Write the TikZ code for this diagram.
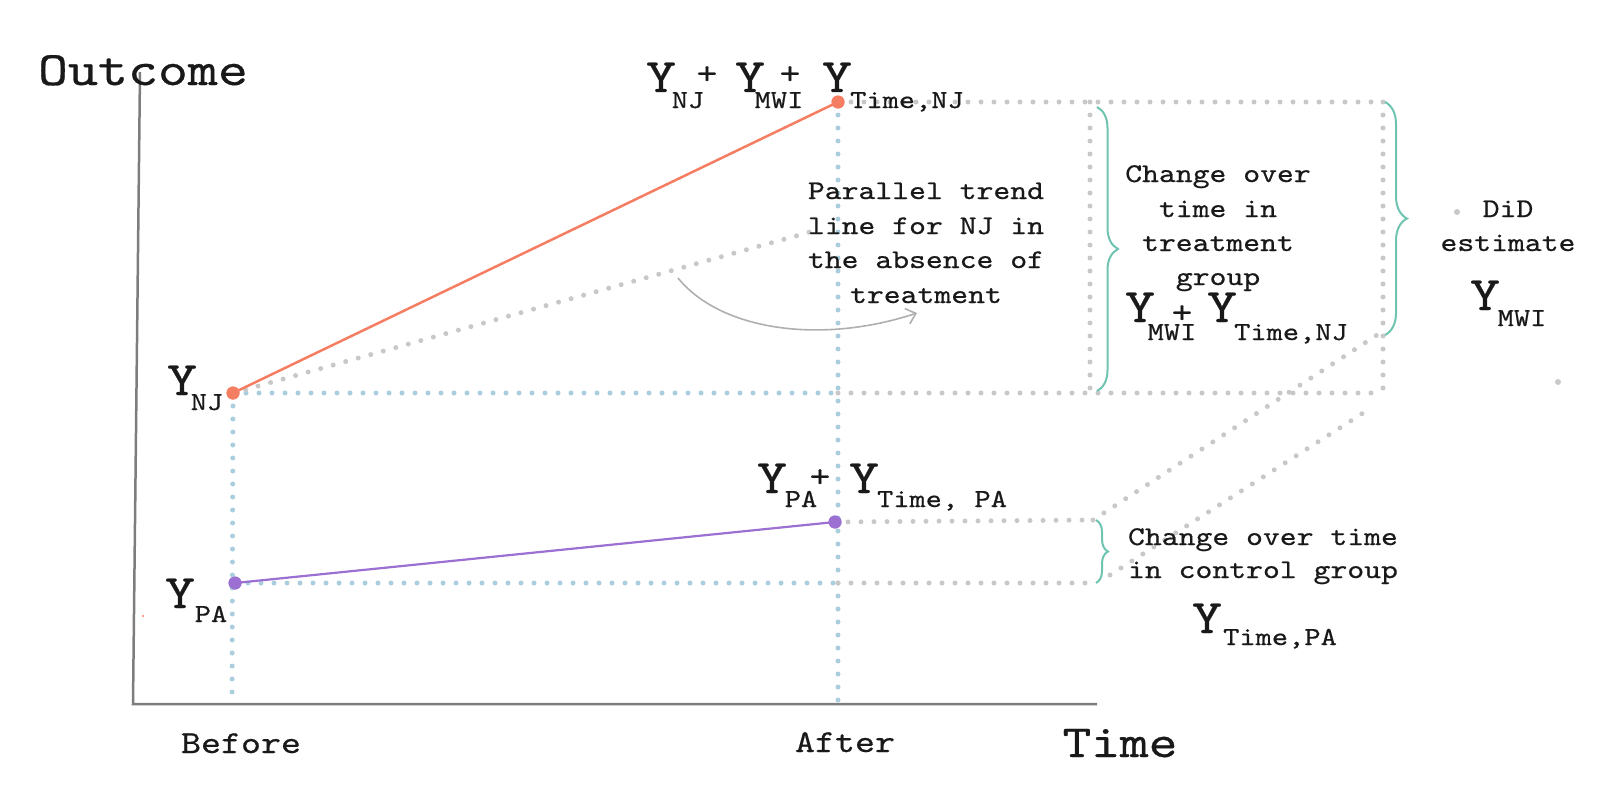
\documentclass[tikz,border=0pt]{standalone}
\usepackage{fontspec}
\newfontfamily\mono{lmmono10-regular}[Extension=.otf, FakeStretch=1.19, FakeBold=0.6]
\usetikzlibrary{arrows.meta,decorations.pathreplacing}
\definecolor{coral}{RGB}{244,125,98}
\definecolor{purp}{RGB}{155,112,210}
\definecolor{dblue}{RGB}{170,206,222}
\definecolor{dgray}{RGB}{200,200,200}
\definecolor{tealb}{RGB}{110,196,176}
\definecolor{axisgray}{RGB}{125,125,125}
\definecolor{arrgray}{RGB}{175,175,175}
\definecolor{ink}{RGB}{25,25,25}
\tikzset{
  bdot/.style={draw=dblue, line width=5pt, line cap=round, dash pattern=on 0pt off 13pt},
  gdot/.style={draw=dgray, line width=5pt, line cap=round, dash pattern=on 0pt off 13pt},
  axisline/.style={draw=axisgray, line width=2.5pt},
  ptnode/.style={circle, inner sep=0pt, minimum size=13pt},
  bracebox/.style={draw=tealb, line width=2pt, decorate, decoration={brace, amplitude=#1}},
  big/.style={font=\mono\fontsize{48}{48}\selectfont, inner sep=0pt, anchor=base, text=ink},
  subs/.style={font=\mono\fontsize{26}{26}\selectfont, inner sep=0pt, anchor=base, text=ink},
  plus/.style={font=\mono\fontsize{33}{33}\selectfont, inner sep=0pt, anchor=center, text=ink},
  txt/.style={font=\mono\fontsize{27}{34}\selectfont, inner sep=0pt, anchor=base, text=ink},
  axtxt/.style={font=\mono\fontsize{32}{32}\selectfont, inner sep=0pt, anchor=base, text=ink},
}
\begin{document}
\begin{tikzpicture}[x=1pt,y=-1pt]
\useasboundingbox (0,0) rectangle (1600,800);

% coordinates
\coordinate (axT) at (140,72);
\coordinate (axO) at (133,704);
\coordinate (axR) at (1097,704);
\coordinate (bbot) at (232,704);
\coordinate (abot) at (838,710);
\coordinate (njlev) at (838,393);
\coordinate (palev) at (838,583);
\coordinate (boxTL) at (1090,102);
\coordinate (boxBL) at (1090,393);
\coordinate (boxTR) at (1383,102);
\coordinate (boxBR) at (1383,393);
\coordinate (ctlTL) at (1093,520);
\coordinate (ctlBL) at (1093,583);
\coordinate (ptend) at (810,232);
\coordinate (dA) at (1377,335);
\coordinate (dB0) at (1110,575);
\coordinate (dB1) at (1363,413);
\coordinate (arr0) at (678,278);
\coordinate (arr1) at (917,313);

% points
\node[ptnode, fill=coral] (nj0) at (233,393) {};
\node[ptnode, fill=coral] (nj1) at (838,102) {};
\node[ptnode, fill=purp] (pa0) at (235,583) {};
\node[ptnode, fill=purp] (pa1) at (835,522) {};

% axes
\draw[axisline] (axT) -- (axO) -- (axR);

% blue dotted guides
\draw[bdot] (nj0.center) -- (bbot);
\draw[bdot] (nj1.center) -- (abot);
\draw[bdot] (nj0.center) -- (njlev);
\draw[bdot] (pa0.center) -- (palev);

% gray dotted guides
\draw[gdot] (njlev) -- (boxBR);
\draw[gdot] (nj1.center) -- (boxTR);
\draw[gdot] (boxTL) -- (boxBL);
\draw[gdot] (boxTR) -- (boxBR);
\draw[gdot] (palev) -- (ctlBL);
\draw[gdot] (pa1.center) -- (ctlTL);
\draw[gdot] (ctlTL) -- (dA);
\draw[gdot] (dB0) -- (dB1);
\draw[gdot] (nj0.center) -- (ptend);

% braces
\draw[bracebox=21pt] (1097,107) -- (1097,391);
\draw[bracebox=22pt] (1385,102) -- (1385,335);
\draw[bracebox=12pt] (1096,520) -- (1096,583);

% curved arrow
\draw[arrgray, line width=1.6pt, -{Straight Barb[length=9pt,width=16pt]}]
  (arr0) .. controls (720,330) and (820,345) .. (arr1);

% trend lines
\draw[coral, line width=2.5pt] (nj0.center) -- (nj1.center);
\draw[purp, line width=2.2pt] (pa0.center) -- (pa1.center);
\node[ptnode, fill=coral] at (nj0) {};
\node[ptnode, fill=coral] at (nj1) {};
\node[ptnode, fill=purp] at (pa0) {};
\node[ptnode, fill=purp] at (pa1) {};

% small specks
\fill[dgray] (1457,212) circle[radius=3pt];
\fill[dgray] (1558,382) circle[radius=3pt];
\fill[coral] (143,616) circle[radius=1.2pt];

% axis labels
\node[big] (lout) at (143,85) {Outcome};
\node[axtxt] (lbef) at (241,753) {Before};
\node[axtxt] (laft) at (845,752) {After};
\node[font=\mono\fontsize{46}{46}\selectfont, inner sep=0pt, anchor=base, text=ink] (ltime) at (1120,757) {Time};

% Y_NJ and Y_PA
\node[big] (ynj) at (182,395) {Y};
\node[subs] (ynjs) at (207,410) {NJ};
\node[big] (ypa) at (180,608) {Y};
\node[subs] (ypas) at (211,622) {PA};

% top label
\node[big] (t1) at (661,92) {Y};
\node[subs] (t1s) at (688,108) {NJ};
\node[plus] (tp1) at (707,75) {+};
\node[big] (t2) at (750,92) {Y};
\node[subs] (t2s) at (779,108) {MWI};
\node[plus] (tp2) at (790,75) {+};
\node[big] (t3) at (837,92) {Y};
\node[subs] (t3s) at (907,108) {Time,NJ};

% PA after label
\node[big] (p1) at (772,493) {Y};
\node[subs] (p1s) at (801,507) {PA};
\node[plus] (pp1) at (820,478) {+};
\node[big] (p2) at (864,493) {Y};
\node[subs] (p2s) at (942,507) {Time, PA};

% parallel trend text
\node[txt] (pt1) at (926,199) {Parallel trend};
\node[txt] (pt2) at (926,234) {line for NJ in};
\node[txt] (pt3) at (926,268) {the absence of};
\node[txt] (pt4) at (926,303) {treatment};

% treatment change text
\node[txt] (tc1) at (1218,182) {Change over};
\node[txt] (tc2) at (1218,217) {time in};
\node[txt] (tc3) at (1218,251) {treatment};
\node[txt] (tc4) at (1218,285) {group};
\node[big] (m1) at (1140,322) {Y};
\node[subs] (m1s) at (1172,340) {MWI};
\node[plus] (mp) at (1182,314) {+};
\node[big] (m2) at (1222,322) {Y};
\node[subs] (m2s) at (1291,340) {Time,NJ};

% DiD estimate
\node[txt] (dd1) at (1508,217) {DiD};
\node[txt] (dd2) at (1508,251) {estimate};
\node[big] (dd3) at (1485,310) {Y};
\node[subs] (dd3s) at (1522,326) {MWI};

% control change text
\node[txt] (cc1) at (1263,545) {Change over time};
\node[txt] (cc2) at (1263,578) {in control group};
\node[big] (cy) at (1207,633) {Y};
\node[subs] (cys) at (1280,645) {Time,PA};
\end{tikzpicture}
\end{document}
